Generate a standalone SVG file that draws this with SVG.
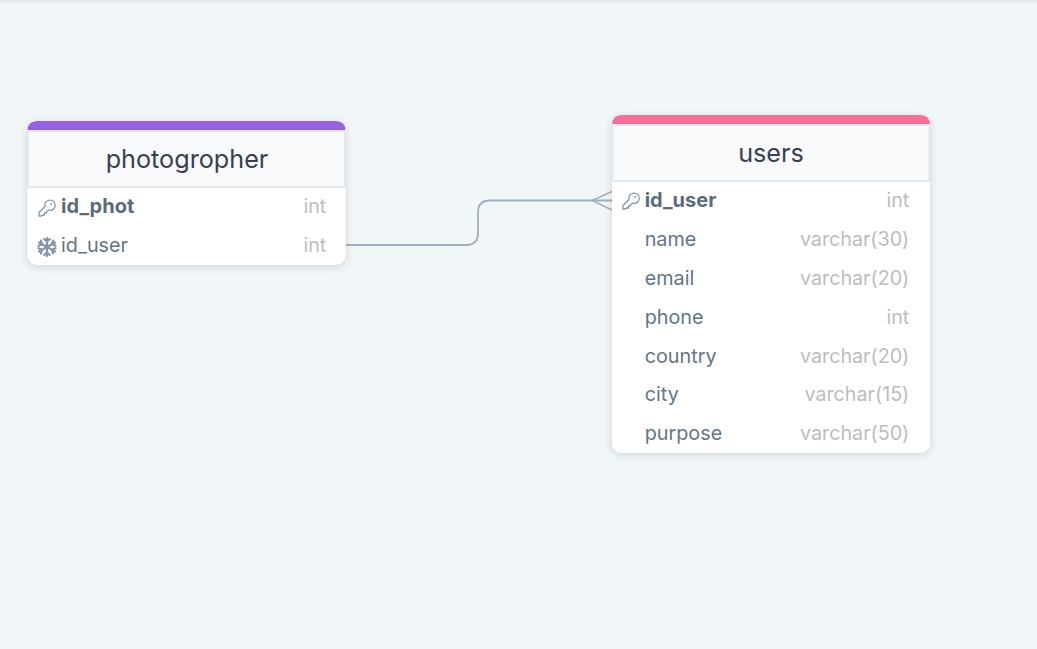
<svg xmlns="http://www.w3.org/2000/svg" width="1037" height="649" viewBox="0 0 1037 649">
<style>
text{font-family:Inter,"Liberation Sans",sans-serif}
.title{font-size:25.200px;fill:#374151;text-anchor:middle}
.f{font-size:19.800px;fill:#667585}
.pk{font-size:20px;fill:#5b6b7c;font-weight:700}
.t{font-size:19.700px;fill:#bdbdbd;text-anchor:end}
.card{fill:#fff;filter:url(#sh)}
.hd{fill:#f8fafc;stroke:#e2e8f0;stroke-width:2}
.conn{fill:none;stroke:#a0aec0;stroke-width:1.8}
.ic{fill:none;stroke:#8796a5;stroke-width:1.300;stroke-linecap:round;stroke-linejoin:round}
</style>
<defs>
<linearGradient id="top" x1="0" y1="0" x2="0" y2="1"><stop offset="0" stop-color="#e2e6e9"/><stop offset="1" stop-color="#f1f6f9"/></linearGradient>
<filter id="sh" x="-10%" y="-10%" width="120%" height="125%"><feDropShadow dx="0" dy="2" stdDeviation="4" flood-color="#000" flood-opacity=".14"/></filter>
<g id="key"><path class="ic" d="M-2 -1.500A5.200 5.200 0 1 1 1.500 2.200L-.5 3.500L-.5 5L-2.500 5L-2.500 7L-4.500 7L-5.500 8L-8 8L-8 4.500Z"/><circle cx="4.200" cy="-4" r="1" fill="#8796a5"/></g>
<g id="snow"><path class="ic" style="stroke-width:2.200" d="M0 -9V9M-8 -4.500L8 4.500M-8 4.500L8 -4.500M-2.800 -8L0 -5.500L2.800 -8M-2.800 8L0 5.500L2.800 8M-8.500 -1.200L-5 -2.800L-6 -6.500M8.500 1.200L5 2.800L6 6.500M-8.500 1.200L-5 2.800L-6 6.500M8.500 -1.200L5 -2.800L6 -6.500"/></g>
</defs>
<rect width="1037" height="649" fill="#f1f6f9"/>
<rect width="1037" height="4" fill="url(#top)"/>
<g id="connectors">
<path class="conn" d="M346 245H466Q478 245 478 233V212.500Q478 200.500 490 200.500H612"/>
<path class="conn" style="stroke-width:1.400" d="M612 191.500L592 200.500L612 210"/>
</g>
<g id="photogropher">
<rect class="card" x="27.500" y="121" width="318" height="144" rx="10"/>
<path fill="#9660e0" d="M27.500 131V131Q27.500 121 37.500 121H335.500Q345.500 121 345.500 131Z"/>
<rect class="hd" x="28" y="131" width="317" height="56"/>
<text class="title" x="187" y="168">photogropher</text>
<use href="#key" x="47" y="208"/>
<text class="pk" x="61" y="213">id_phot</text>
<text class="t" x="326.300" y="213">int</text>
<use href="#snow" x="47" y="247"/>
<text class="f" x="61" y="252">id_user</text>
<text class="t" x="326.300" y="252">int</text>
</g>
<g id="users">
<rect class="card" x="612" y="115" width="318" height="338" rx="10"/>
<path fill="#f76d98" d="M612 125V125Q612 115 622 115H920Q930 115 930 125Z"/>
<rect class="hd" x="612.500" y="125" width="317" height="56"/>
<text class="title" x="771" y="162">users</text>
<use href="#key" x="631" y="201"/>
<text class="pk" x="644.700" y="207">id_user</text>
<text class="t" x="909.300" y="207">int</text>
<text class="f" x="644.700" y="246">name</text>
<text class="t" x="909.300" y="246">varchar(30)</text>
<text class="f" x="644.700" y="285">email</text>
<text class="t" x="909.300" y="285">varchar(20)</text>
<text class="f" x="644.700" y="324">phone</text>
<text class="t" x="909.300" y="324">int</text>
<text class="f" x="644.700" y="363">country</text>
<text class="t" x="909.300" y="363">varchar(20)</text>
<text class="f" x="644.700" y="401">city</text>
<text class="t" x="909.300" y="401">varchar(15)</text>
<text class="f" x="644.700" y="440">purpose</text>
<text class="t" x="909.300" y="440">varchar(50)</text>
</g>
</svg>
